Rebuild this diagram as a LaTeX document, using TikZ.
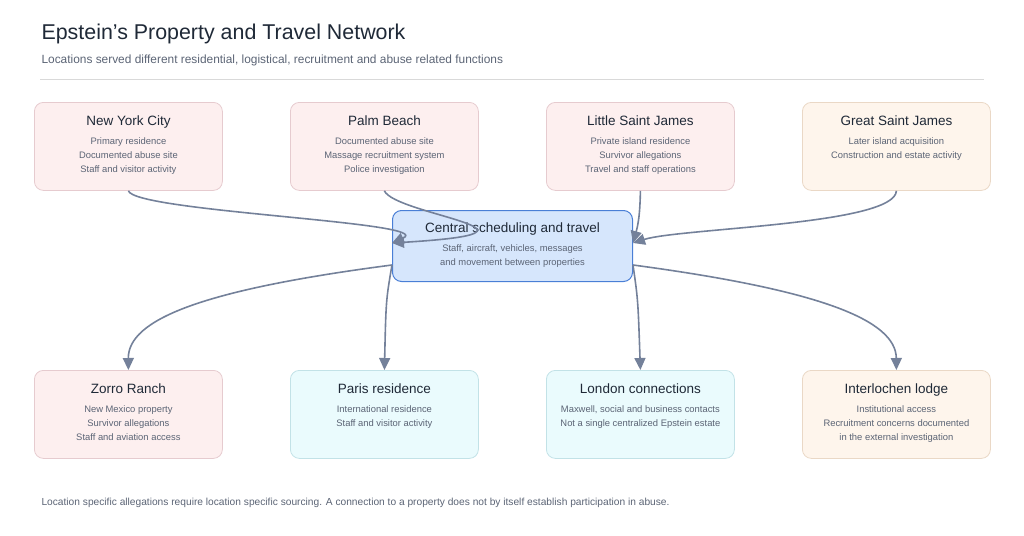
\documentclass[tikz,border=0pt]{standalone}
\usepackage{fontspec}
\setmainfont{Liberation Sans}
\usetikzlibrary{arrows.meta}
\definecolor{pinkf}{HTML}{FDEFEF}\definecolor{pinkd}{HTML}{E6CBCF}
\definecolor{peachf}{HTML}{FEF5EC}\definecolor{peachd}{HTML}{EAD8C6}
\definecolor{cyanf}{HTML}{EAFBFD}\definecolor{cyand}{HTML}{C2E2E7}
\definecolor{cenf}{HTML}{D6E6FC}\definecolor{cend}{HTML}{4A7FD6}
\definecolor{edge}{HTML}{74819A}\definecolor{ttl}{HTML}{1F2937}\definecolor{sub}{HTML}{5B6475}
\tikzset{
 box/.style={draw, rounded corners=9pt, line width=0.8pt, minimum width=188pt, minimum height=88pt, anchor=north west},
 pink/.style={box, fill=pinkf, draw=pinkd},
 peach/.style={box, fill=peachf, draw=peachd},
 cyan/.style={box, fill=cyanf, draw=cyand},
 btitle/.style={font=\fontsize{13.5}{15}\selectfont, text=ttl, anchor=north},
 bbody/.style={font=\fontsize{9.4}{14}\selectfont, text=sub, align=center, anchor=north},
 conn/.style={draw=edge, line width=1.6pt, -{Triangle[length=12pt,width=11pt]}},
}
\begin{document}
\begin{tikzpicture}[x=1pt,y=-1pt]
\useasboundingbox (0,0) rectangle (1024,535);
\node[anchor=west, font=\fontsize{21.4}{25}\selectfont, text=ttl] (title) at (38,34) {Epstein’s Property and Travel Network};
\node[anchor=west, font=\fontsize{11.9}{13}\selectfont, text=sub] (subt) at (38,60) {Locations served different residential, logistical, recruitment and abuse related functions};
\draw[draw=black!15, line width=0.8pt] (40,79) -- (984,79);
\node[pink] (nyc) at (34,102) {}; \node[pink] (pb) at (290,102) {};
\node[pink] (lsj) at (546,102) {}; \node[peach] (gsj) at (802,102) {};
\node[pink] (zr) at (34,370) {}; \node[cyan] (par) at (290,370) {};
\node[cyan] (lon) at (546,370) {}; \node[peach] (il) at (802,370) {};
\foreach \n/\t/\b in {nyc/New York City/{Primary residence\\Documented abuse site\\Staff and visitor activity},
 pb/Palm Beach/{Documented abuse site\\Massage recruitment system\\Police investigation},
 lsj/Little Saint James/{Private island residence\\Survivor allegations\\Travel and staff operations},
 gsj/Great Saint James/{Later island acquisition\\Construction and estate activity},
 zr/Zorro Ranch/{New Mexico property\\Survivor allegations\\Staff and aviation access},
 par/Paris residence/{International residence\\Staff and visitor activity},
 lon/London connections/{Maxwell, social and business contacts\\Not a single centralized Epstein estate},
 il/Interlochen lodge/{Institutional access\\Recruitment concerns documented\\in the external investigation}}{
 \node[btitle] (\n-t) at ([yshift=-10pt]\n.north) {\t};
 \node[bbody] (\n-b) at ([yshift=-32pt]\n.north) {\b};
}
\node[draw=cend, fill=cenf, line width=1pt, rounded corners=9pt, minimum width=240pt, minimum height=71pt, anchor=north west] (c) at (392,210) {};
\node[btitle] (c-t) at ([yshift=-9pt]c.north) {Central scheduling and travel};
\node[bbody] (c-b) at ([yshift=-31pt]c.north) {Staff, aircraft, vehicles, messages\\and movement between properties};
\coordinate (cw) at ([yshift=-33pt]c.north west);
\coordinate (ce) at ([yshift=-33pt]c.north east);
\draw[conn] (nyc.south) .. controls (135,212) and (440,222) .. (cw);
\draw[conn] (pb.south) .. controls (395,215) and (575,232) .. (cw);
\draw[conn] (lsj.south) .. controls (640,215) and (638,225) .. (ce);
\draw[conn] (gsj.south) .. controls (895,225) and (680,228) .. (ce);
\draw[conn] ([yshift=-55pt]c.north west) .. controls (200,290) and (128,320) .. (zr.north);
\draw[conn] ([yshift=-55pt]c.north west) .. controls (386,300) .. (par.north);
\draw[conn] ([yshift=-55pt]c.north east) .. controls (638,300) .. (lon.north);
\draw[conn] ([yshift=-55pt]c.north east) .. controls (820,290) and (896,320) .. (il.north);
\node[anchor=west, font=\fontsize{10.2}{11}\selectfont, text=sub] (foot) at (38,503) {Location specific allegations require location specific sourcing. A connection to a property does not by itself establish participation in abuse.};
\end{tikzpicture}
\end{document}
